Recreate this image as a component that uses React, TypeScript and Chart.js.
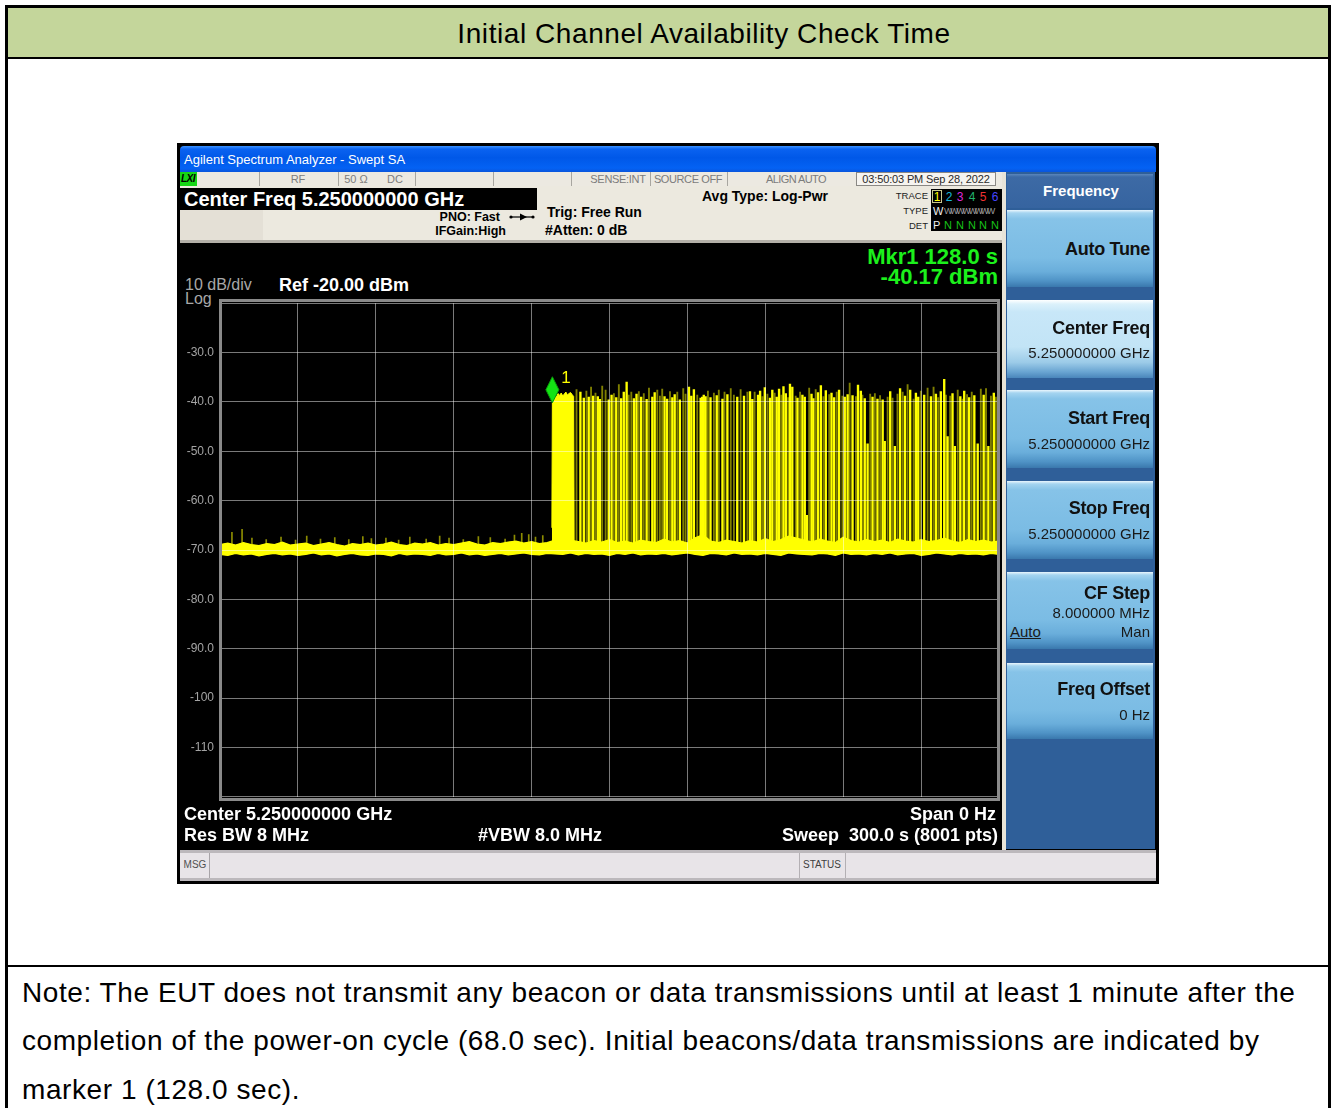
import React, { useEffect, useRef } from "react";
import { Chart, registerables } from "chart.js";

Chart.register(...registerables);

const SANS = '"Liberation Sans", Arial, Helvetica, sans-serif';

// ---------------- chart data ----------------
const sweepStartS = 0;
const sweepStopS = 300;
const sweepDivS = 30;
const refLevelDbm = -20;
const bottomLevelDbm = -120;
const dbPerDiv = 10;
const yTickValues = [-30, -40, -50, -60, -70, -80, -90, -100, -110];
const yTickLabels = ["-30.0", "-40.0", "-50.0", "-60.0", "-70.0", "-80.0", "-90.0", "-100", "-110"];

const markerTime = 128.0;
const markerLevel = -40.17;
const markerLabel = "1";

const burstBase = -70.0;

// noise floor band (top and bottom edge)
const floorTimes = [
  0, 3, 6, 9, 12, 15, 18, 21, 24, 27, 30, 33, 36, 39, 42, 45, 48, 51, 54, 57,
  60, 63, 66, 69, 72, 75, 78, 81, 84, 87, 90, 93, 96, 99, 102, 105, 108, 111, 114, 117,
  120, 123, 126, 129, 132, 135, 138, 141, 144, 147, 150, 153, 156, 159, 162, 165, 168, 171, 174, 177,
  180, 183, 186, 189, 192, 195, 198, 201, 204, 207, 210, 213, 216, 219, 222, 225, 228, 231, 234, 237,
  240, 243, 246, 249, 252, 255, 258, 261, 264, 267, 270, 273, 276, 279, 282, 285, 288, 291, 294, 297,
  300,
];
const floorTop = [
  -68.9, -68.6, -69.0, -68.5, -68.9, -69.1, -68.7, -68.9, -68.4, -69.0, -68.8, -68.6, -69.1, -68.8, -68.5, -68.9, -69.2, -68.7, -68.9, -68.6,
  -69.0, -68.8, -68.4, -68.9, -69.1, -68.6, -68.8, -68.5, -69.0, -68.7, -68.9, -68.6, -68.3, -68.8, -69.0, -68.5, -68.7, -68.4, -68.2, -68.6,
  -68.3, -68.7, -68.5, -68.0, -68.2, -68.0, -68.3, -68.6, -68.1, -68.4, -67.9, -68.5, -68.2, -68.6, -68.0, -68.3, -68.5, -67.8, -68.4, -68.1,
  -68.6, -67.5, -66.9, -68.2, -68.5, -68.0, -68.3, -68.6, -68.1, -68.4, -67.7, -68.3, -67.9, -67.2, -67.6, -68.0, -68.4, -67.8, -68.2, -68.5,
  -67.4, -68.1, -68.4, -67.9, -68.3, -68.0, -68.5, -67.8, -68.2, -68.4, -67.9, -68.3, -68.1, -67.6, -68.2, -68.5, -67.9, -68.3, -68.0, -68.4,
  -68.2,
];
const floorBottom = [
  -70.9, -71.1, -70.7, -71.0, -70.8, -71.2, -70.9, -70.7, -71.0, -70.8, -71.1, -70.9, -70.6, -71.0, -70.8, -71.2, -70.9, -70.7, -71.0, -71.1,
  -70.8, -70.9, -71.2, -70.7, -71.0, -70.8, -70.9, -71.1, -70.7, -71.0, -70.9, -70.6, -71.0, -70.8, -71.1, -70.9, -70.7, -71.0, -70.8, -70.6,
  -70.9, -71.0, -70.7, -70.8, -70.9, -70.6, -71.0, -70.7, -70.9, -70.8, -71.1, -70.7, -70.9, -70.6, -71.0, -70.8, -70.9, -70.7, -71.0, -70.8,
  -70.6, -70.9, -71.1, -70.7, -70.8, -71.0, -70.6, -70.9, -70.8, -71.0, -70.7, -70.9, -71.1, -70.6, -70.8, -70.9, -71.0, -70.7, -70.8, -71.1,
  -70.6, -70.9, -70.8, -71.0, -70.7, -70.9, -70.6, -71.0, -70.8, -70.7, -71.1, -70.9, -70.6, -70.8, -71.0, -70.7, -70.9, -70.8, -71.0, -70.7,
  -70.9,
];

// small spikes on the noise floor
const spikeTimes = [
  4.6, 8.5, 12.3, 17.8, 23.5, 29.1, 33.4, 38.7, 44.2, 49.6,
  55.0, 58.3, 63.9, 68.8, 73.1, 79.4, 84.6, 88.2, 93.7, 99.5,
  104.1, 109.8, 113.4, 116.2, 118.9, 121.5, 124.3,
];
const spikeLevels = [
  -66.4, -65.8, -67.6, -67.9, -67.4, -68.0, -67.2, -67.8, -67.5, -67.9,
  -67.3, -67.7, -67.6, -68.0, -67.4, -67.8, -67.2, -67.6, -67.9, -67.3,
  -67.5, -67.8, -67.0, -66.6, -66.9, -67.4, -67.1,
];

// first continuous transmission block
const blockTimes = [127.8, 128.0, 128.5, 129.0, 129.6, 130.2, 130.8, 131.4, 132.0, 132.6, 133.2, 133.8, 134.4, 135.0, 135.6, 136.2, 136.4];
const blockLevels = [-65.5, -40.2, -39.0, -38.6, -38.9, -38.3, -38.7, -38.2, -38.8, -38.4, -38.0, -38.6, -38.3, -38.1, -38.5, -38.9, -70.0];

// bright bursts
const brightTimes = [
  138.8, 140.1, 142.0, 143.7, 145.5, 146.3, 149.7, 150.8, 152.6, 154.5,
  155.5, 156.6, 159.4, 160.4, 162.2, 164.3, 166.5, 167.4, 171.2, 172.2,
  174.2, 175.1, 177.1, 180.6, 181.5, 182.5, 185.1, 185.7, 186.3, 187.0,
  188.9, 191.3, 193.5, 195.4, 199.2, 201.8, 204.1, 205.0, 207.2, 208.0,
  209.8, 211.8, 212.7, 214.4, 215.3, 217.0, 217.9, 219.5, 220.4, 222.4,
  224.3, 225.2, 226.0, 227.8, 228.5, 230.3, 231.4, 233.3, 235.5, 236.5,
  238.4, 240.6, 241.7, 243.6, 245.7, 246.8, 248.3, 249.4, 251.3, 253.2,
  255.2, 256.0, 258.1, 259.9, 261.9, 263.8, 265.8, 268.0, 268.9, 271.2,
  273.8, 275.7, 277.6, 278.9, 280.2, 282.1, 283.0, 285.1, 286.6, 288.5,
  290.5, 291.8, 294.1, 295.9, 298.0, 299.7,
];
const brightPeaks = [
  -38.0, -39.2, -39.0, -38.8, -38.9, -39.5, -39.6, -38.6, -39.1, -39.3,
  -38.0, -36.0, -39.3, -38.4, -39.0, -39.5, -39.0, -38.1, -38.9, -39.4,
  -39.1, -38.5, -39.6, -37.0, -38.8, -37.5, -39.2, -39.0, -38.6, -38.9,
  -39.1, -38.7, -39.4, -38.5, -39.0, -38.8, -37.9, -39.5, -38.6, -37.8,
  -37.1, -39.2, -37.6, -39.0, -37.4, -36.9, -38.3, -36.4, -37.0, -39.2,
  -38.6, -39.0, -63.0, -38.4, -39.3, -38.1, -36.7, -37.7, -38.2, -39.1,
  -37.6, -39.0, -38.5, -38.7, -36.6, -37.8, -39.3, -48.5, -39.0, -39.4,
  -39.6, -48.0, -37.9, -49.0, -37.3, -38.8, -37.6, -38.2, -39.0, -38.6,
  -38.9, -38.4, -37.9, -35.4, -47.0, -38.3, -49.0, -38.9, -37.8, -39.1,
  -38.7, -48.5, -38.6, -49.0, -38.2, -36.0,
];

// thin (dim) bursts
const dimTimes = [
  137.3, 141.1, 142.9, 144.6, 147.2, 148.5, 151.7, 153.6, 157.4, 158.4,
  161.3, 163.2, 165.2, 168.4, 169.4, 170.3, 173.3, 176.1, 178.4, 179.3,
  183.8, 187.9, 190.2, 192.1, 194.3, 196.7, 197.9, 200.5, 203.1, 205.9,
  208.9, 210.8, 213.6, 216.2, 218.8, 221.7, 223.4, 226.9, 229.4, 232.4,
  234.6, 237.5, 239.7, 242.5, 244.9, 247.4, 250.4, 252.2, 254.2, 257.1,
  259.0, 260.9, 262.9, 264.8, 267.1, 269.9, 272.5, 274.8, 276.6, 279.6,
  281.2, 284.1, 286.0, 287.7, 289.5, 293.0, 295.0, 296.9, 298.8,
];
const dimPeaks = [
  -37.5, -37.8, -37.0, -38.2, -36.8, -37.6, -38.3, -36.5, -38.6, -38.0,
  -37.9, -38.3, -37.2, -37.6, -38.8, -37.4, -37.9, -38.0, -37.3, -38.4,
  -38.6, -37.8, -38.2, -37.6, -38.0, -37.3, -38.6, -37.5, -38.0, -38.0,
  -38.9, -38.4, -38.2, -38.6, -39.1, -38.8, -38.0, -37.2, -37.5, -38.9,
  -38.5, -38.0, -38.8, -36.2, -38.9, -38.6, -38.4, -38.3, -38.7, -39.0,
  -39.2, -38.4, -38.0, -36.5, -39.4, -37.8, -37.2, -37.0, -39.1, -38.6,
  -38.8, -37.6, -39.4, -38.5, -38.0, -37.4, -37.3, -38.8, -39.0,
];

// ---------------- helpers ----------------
type TP = {
  x: number; y: number; s: number; t: string; c?: string; w?: number;
  a?: "l" | "r" | "c"; f?: string; ls?: number; u?: boolean; i?: boolean;
};
const Txt = ({ x, y, s, t, c = "#000", w = 400, a = "l", f = SANS, ls = 0, u = false, i = false }: TP) => {
  const st: React.CSSProperties = {
    position: "absolute", top: y - s / 2, fontSize: s, lineHeight: `${s}px`, height: s,
    color: c, fontWeight: w, fontFamily: f, whiteSpace: "pre", letterSpacing: ls,
    textDecoration: u ? "underline" : "none", fontStyle: i ? "italic" : "normal",
  };
  if (a === "l") st.left = x;
  else if (a === "r") { st.left = x - 700; st.width = 700; st.textAlign = "right"; }
  else { st.left = x - 700; st.width = 1400; st.textAlign = "center"; }
  return <div style={st}>{t}</div>;
};
const Box = ({ l, t, w, h, bg, st }: { l: number; t: number; w: number; h: number; bg?: string; st?: React.CSSProperties }) => (
  <div style={{ position: "absolute", left: l, top: t, width: w, height: h, background: bg, boxSizing: "border-box", ...st }} />
);

const markerPlugin = {
  id: "mkr",
  afterDraw(chart: any) {
    const { ctx, scales } = chart;
    const x = scales.x.getPixelForValue(markerTime);
    const y = scales.y.getPixelForValue(markerLevel);
    ctx.save();
    ctx.beginPath();
    ctx.moveTo(x, y);
    ctx.lineTo(x - 6.5, y - 13);
    ctx.lineTo(x, y - 26);
    ctx.lineTo(x + 6.5, y - 13);
    ctx.closePath();
    ctx.fillStyle = "#14e414";
    ctx.fill();
    ctx.strokeStyle = "#0a9a0a";
    ctx.lineWidth = 1;
    ctx.stroke();
    ctx.fillStyle = "#ffff00";
    ctx.font = `17px ${SANS}`;
    ctx.textBaseline = "middle";
    ctx.fillText(markerLabel, x + 9, y - 24);
    ctx.restore();
  },
};

function Trace() {
  const ref = useRef<HTMLCanvasElement>(null);
  useEffect(() => {
    const canvas = ref.current!;
    const gridColor = "rgba(255,255,255,0.48)";
    const chart = new Chart(canvas, {
      type: "line",
      data: {
        datasets: [
          {
            type: "line", label: "floorLow",
            data: floorTimes.map((t, i) => ({ x: t, y: floorBottom[i] })),
            borderColor: "#ffff00", borderWidth: 1.2, pointRadius: 0, fill: false, order: 6,
          } as any,
          {
            type: "line", label: "floorHigh",
            data: floorTimes.map((t, i) => ({ x: t, y: floorTop[i] })),
            borderColor: "#ffff00", backgroundColor: "#ffff00", borderWidth: 1.2, pointRadius: 0, fill: "-1", order: 6,
          } as any,
          {
            type: "line", label: "block",
            data: blockTimes.map((t, i) => ({ x: t, y: blockLevels[i] })),
            borderColor: "#ffff00", backgroundColor: "#ffff00", borderWidth: 1, pointRadius: 0, fill: { value: burstBase }, order: 1,
          } as any,
          {
            type: "bar", label: "spikes", stack: "bursts",
            data: spikeTimes.map((t, i) => ({ x: t, y: [burstBase, spikeLevels[i]] })),
            backgroundColor: "rgba(255,255,0,0.55)", barThickness: 1, borderWidth: 0, order: 5,
          } as any,
          {
            type: "bar", label: "dim", stack: "bursts",
            data: dimTimes.map((t, i) => ({ x: t, y: [burstBase, dimPeaks[i]] })),
            backgroundColor: "rgba(255,255,0,0.5)", barThickness: 1.2, borderWidth: 0, order: 4,
          } as any,
          {
            type: "bar", label: "bright", stack: "bursts",
            data: brightTimes.map((t, i) => ({ x: t, y: [burstBase, brightPeaks[i]] })),
            backgroundColor: "#ffff00", barThickness: 1.7, borderWidth: 0, order: 2,
          } as any,
        ],
      },
      options: {
        animation: false,
        responsive: false,
        events: [],
        elements: { line: { tension: 0 }, point: { radius: 0 } },
        plugins: { legend: { display: false }, tooltip: { enabled: false } },
        layout: { padding: { top: 9, bottom: 9, left: 0, right: 6 } },
        scales: {
          x: {
            type: "linear", min: sweepStartS, max: sweepStopS, offset: false,
            ticks: { display: false, stepSize: sweepDivS },
            grid: { color: gridColor, z: 1, drawTicks: false, offset: false, lineWidth: 1 },
            border: { display: false },
            afterFit: (s: any) => { s.height = 0; },
          },
          y: {
            type: "linear", min: bottomLevelDbm, max: refLevelDbm, stacked: false,
            ticks: {
              stepSize: dbPerDiv, color: "#a4a4a4", padding: 6,
              font: { family: SANS, size: 12 },
              callback: (v: any) => {
                const k = yTickValues.indexOf(Number(v));
                return k >= 0 ? yTickLabels[k] : "";
              },
            },
            grid: { color: gridColor, z: 1, drawTicks: false, lineWidth: 1 },
            border: { display: false },
            afterFit: (s: any) => { s.width = 40; },
          },
        },
      } as any,
      plugins: [markerPlugin],
    });
    return () => chart.destroy();
  }, []);
  return (
    <canvas ref={ref} width={825} height={520}
      style={{ position: "absolute", left: 180, top: 290, width: 825, height: 520, display: "block" }} />
  );
}

const btnNormal =
  "linear-gradient(to bottom, #eaf6fd 0px, #a4d4f0 3px, #86c3e8 9px, #7bbce4 62%, #6aaedb 80%, #4f93c6 92%, #3a78ad 100%)";
const btnSel =
  "linear-gradient(to bottom, #ffffff 0px, #dcf1fb 4px, #c8e7f8 12px, #c2e4f6 60%, #9ccbe8 80%, #6aa5d2 92%, #4a86bb 100%)";

function SoftKey({ top, h, sel, children }: { top: number; h: number; sel?: boolean; children?: React.ReactNode }) {
  return (
    <>
      <Box l={1007} t={top} w={146} h={h} bg={sel ? btnSel : btnNormal} />
      {children}
    </>
  );
}

export default function App() {
  return (
    <div style={{ position: "absolute", left: 0, top: 0, width: 1335, height: 1108, overflow: "hidden", background: "#fff", fontFamily: SANS }}>
      {/* table frame */}
      <Box l={8} t={8} w={1320} h={49} bg="#c4d69b" />
      <Box l={5} t={5} w={1326} h={3} bg="#000" />
      <Box l={5} t={5} w={3} h={1110} bg="#000" />
      <Box l={1328} t={5} w={3} h={1110} bg="#000" />
      <Box l={5} t={57} w={1326} h={2} bg="#000" />
      <Box l={5} t={965} w={1326} h={2} bg="#000" />
      <Txt x={704} y={34} s={28} ls={0.57} a="c" t="Initial Channel Availability Check Time" />
      <Txt x={22} y={993} s={28} ls={0.57} t="Note: The EUT does not transmit any beacon or data transmissions until at least 1 minute after the" />
      <Txt x={22} y={1041} s={28} ls={0.57} t="completion of the power-on cycle (68.0 sec). Initial beacons/data transmissions are indicated by" />
      <Txt x={22} y={1090} s={28} ls={0.57} t="marker 1 (128.0 sec)." />

      {/* analyzer outer */}
      <Box l={177} t={143} w={982} h={741} bg="#000" />
      {/* title bar */}
      <Box l={180} t={146} w={976} h={26}
        bg="linear-gradient(to bottom, #3c93ff 0%, #0a62f0 12%, #0058e8 45%, #0462f4 85%, #0a55dc 100%)"
        st={{ borderRadius: "4px 4px 0 0" }} />
      <Txt x={184} y={159} s={13} c="#fff" t="Agilent Spectrum Analyzer - Swept SA" />

      {/* status row */}
      <Box l={180} t={172} w={824} h={14} bg="#ece9e1" />
      <Box l={180} t={172} w={17} h={14} bg="#16d616" />
      <Txt x={181} y={179} s={10} w={700} i c="#000" t="LXI" ls={-0.5} />
      {[259, 338, 415, 493, 571, 650, 727].map((sx) => (
        <Box key={sx} l={sx} t={172} w={1} h={14} bg="#a8a6a0" />
      ))}
      <Box l={856} t={172} w={140} h={14} bg="#f6f4f0" st={{ border: "1px solid #8a8884" }} />
      <Txt x={298} y={179.5} s={11} a="c" c="#7c7c7c" t="RF" />
      <Txt x={356} y={179.5} s={11} a="c" c="#7c7c7c" t="50 Ω" />
      <Txt x={395} y={179.5} s={11} a="c" c="#7c7c7c" t="DC" />
      <Txt x={618} y={179.5} s={11} a="c" c="#7c7c7c" t="SENSE:INT" ls={-0.3} />
      <Txt x={688} y={179.5} s={11} a="c" c="#7c7c7c" t="SOURCE OFF" ls={-0.4} />
      <Txt x={796} y={179.5} s={11} a="c" c="#7c7c7c" t="ALIGN AUTO" ls={-0.6} />
      <Txt x={926} y={179.5} s={11} a="c" c="#2a2a2a" t="03:50:03 PM Sep 28, 2022" ls={-0.15} />

      {/* header panel */}
      <Box l={180} t={186} w={824} h={55} bg="#ece9df" />
      <Box l={180} t={210} w={83} h={31} bg="#e4e0d6" />
      <Box l={180} t={240} w={824} h={3} bg="#b4b0a8" />
      <Box l={180} t={188} w={357} h={22} bg="#000" />
      <Txt x={184} y={199} s={20} w={700} c="#fff" t="Center Freq 5.250000000 GHz" />
      <Txt x={500} y={217.5} s={12.5} w={700} a="r" t="PNO: Fast" />
      <svg style={{ position: "absolute", left: 508, top: 211 }} width={28} height={12}>
        <line x1={2} y1={6} x2={26} y2={6} stroke="#000" strokeWidth={1.2} />
        <circle cx={3} cy={6} r={1.6} fill="#000" />
        <polygon points="12,2.5 19,6 12,9.5" fill="#000" />
        <circle cx={25} cy={6} r={1.6} fill="#000" />
      </svg>
      <Txt x={506} y={231} s={12.5} w={700} a="r" t="IFGain:High" />
      <Txt x={547} y={212} s={14} w={700} t="Trig: Free Run" />
      <Txt x={545} y={230} s={14} w={700} t="#Atten: 0 dB" />
      <Txt x={702} y={196} s={14} w={700} t="Avg Type: Log-Pwr" />
      <Txt x={928} y={196} s={9.5} a="r" c="#222" t="TRACE" />
      <Txt x={928} y={211} s={9.5} a="r" c="#222" t="TYPE" />
      <Txt x={928} y={225.5} s={9.5} a="r" c="#222" t="DET" />
      <Box l={931} t={189} w={71} h={42} bg="#000" />
      <Box l={932} t={190} w={10} h={13} st={{ border: "1px solid #c8c890" }} />
      {[
        { x: 937, t: "1", c: "#ffff00" },
        { x: 949, t: "2", c: "#19b9dc" },
        { x: 960, t: "3", c: "#dc28dc" },
        { x: 972, t: "4", c: "#22b46e" },
        { x: 983, t: "5", c: "#f03232" },
        { x: 995, t: "6", c: "#4646ff" },
      ].map((d) => (
        <Txt key={d.t} x={d.x} y={196.5} s={12} a="c" c={d.c} t={d.t} />
      ))}
      <Txt x={933} y={211} s={11} c="#f0f0f0" t="W" />
      <div style={{ position: "absolute", left: 944, top: 205, width: 56, height: 12, overflow: "hidden" }}>
        <Txt x={0} y={6} s={9} c="#9c9c9c" t="WWWWWWWW" ls={-2.4} />
      </div>
      <Txt x={933} y={225.5} s={11} c="#f0f0f0" t="P" />
      {[948, 960, 972, 983, 995].map((nx) => (
        <Txt key={nx} x={nx} y={225.5} s={11} a="c" c="#18c018" t="N" />
      ))}

      {/* screen */}
      <Box l={180} t={243} w={822} h={607} bg="#000" />
      <Box l={1002} t={172} w={4} h={678} bg="#e8e4d8" />
      <Txt x={998} y={257} s={22} w={700} a="r" c="#1cf01c" t="Mkr1 128.0 s" />
      <Txt x={998} y={276.5} s={22} w={700} a="r" c="#1cf01c" t="-40.17 dBm" />
      <Txt x={185} y={285} s={16} c="#a8a8a8" t="10 dB/div" />
      <Txt x={185} y={299} s={16} c="#a8a8a8" t="Log" />
      <Txt x={279} y={284.5} s={18} w={700} c="#fff" t="Ref -20.00 dBm" />

      <Trace />
      <Box l={219} t={299} w={781} h={502} st={{ border: "3px solid #8a8a8a" }} />

      <Txt x={184} y={814} s={18} w={700} c="#fff" t="Center 5.250000000 GHz" />
      <Txt x={184} y={835} s={18} w={700} c="#fff" t="Res BW 8 MHz" />
      <Txt x={478} y={835} s={18} w={700} c="#fff" t="#VBW 8.0 MHz" />
      <Txt x={996} y={814} s={18} w={700} a="r" c="#fff" t="Span 0 Hz" />
      <Txt x={998} y={835} s={18} w={700} a="r" c="#fff" t={"Sweep  300.0 s (8001 pts)"} />

      {/* status bar */}
      <Box l={180} t={850} w={976} h={31} bg="#bcb8bc" />
      <Box l={180} t={853} w={976} h={25} bg="#e8e4e8" />
      <Box l={209} t={853} w={1} h={25} bg="#a8a4a8" />
      <Txt x={195} y={864.5} s={10} a="c" c="#505050" t="MSG" />
      <Box l={799} t={853} w={1} h={25} bg="#b4b0b4" />
      <Box l={845} t={853} w={1} h={25} bg="#b4b0b4" />
      <Txt x={822} y={864.5} s={10} a="c" c="#404040" t="STATUS" />

      {/* softkey panel */}
      <Box l={1006} t={172} w={149} h={677} bg="#2f5f99" />
      <Box l={1007} t={174} w={146} h={34} bg="linear-gradient(to bottom, #5a86bc 0px, #3d6aa5 3px, #3664a0 100%)" />
      <Txt x={1081} y={190} s={15} w={700} a="c" c="#fff" t="Frequency" />

      <SoftKey top={210} h={77}>
        <Txt x={1150} y={249} s={18} w={700} a="r" c="#111" t="Auto Tune" ls={-0.3} />
      </SoftKey>
      <SoftKey top={300} h={78} sel>
        <Txt x={1150} y={327.5} s={18} w={700} a="r" c="#111" t="Center Freq" ls={-0.3} />
        <Txt x={1150} y={352} s={15} a="r" c="#1a1a1a" t="5.250000000 GHz" />
      </SoftKey>
      <SoftKey top={390} h={78}>
        <Txt x={1150} y={418} s={18} w={700} a="r" c="#111" t="Start Freq" ls={-0.3} />
        <Txt x={1150} y={443} s={15} a="r" c="#1a1a1a" t="5.250000000 GHz" />
      </SoftKey>
      <SoftKey top={481} h={78}>
        <Txt x={1150} y={508} s={18} w={700} a="r" c="#111" t="Stop Freq" ls={-0.3} />
        <Txt x={1150} y={533} s={15} a="r" c="#1a1a1a" t="5.250000000 GHz" />
      </SoftKey>
      <SoftKey top={572} h={77}>
        <Txt x={1150} y={593} s={18} w={700} a="r" c="#111" t="CF Step" ls={-0.3} />
        <Txt x={1150} y={612} s={15} a="r" c="#1a1a1a" t="8.000000 MHz" />
        <Txt x={1010} y={631} s={15} c="#1a1a1a" u t="Auto" />
        <Txt x={1150} y={631} s={15} a="r" c="#1a1a1a" t="Man" />
      </SoftKey>
      <SoftKey top={663} h={76}>
        <Txt x={1150} y={689} s={18} w={700} a="r" c="#111" t="Freq Offset" ls={-0.3} />
        <Txt x={1150} y={714} s={15} a="r" c="#1a1a1a" t="0 Hz" />
      </SoftKey>
    </div>
  );
}
